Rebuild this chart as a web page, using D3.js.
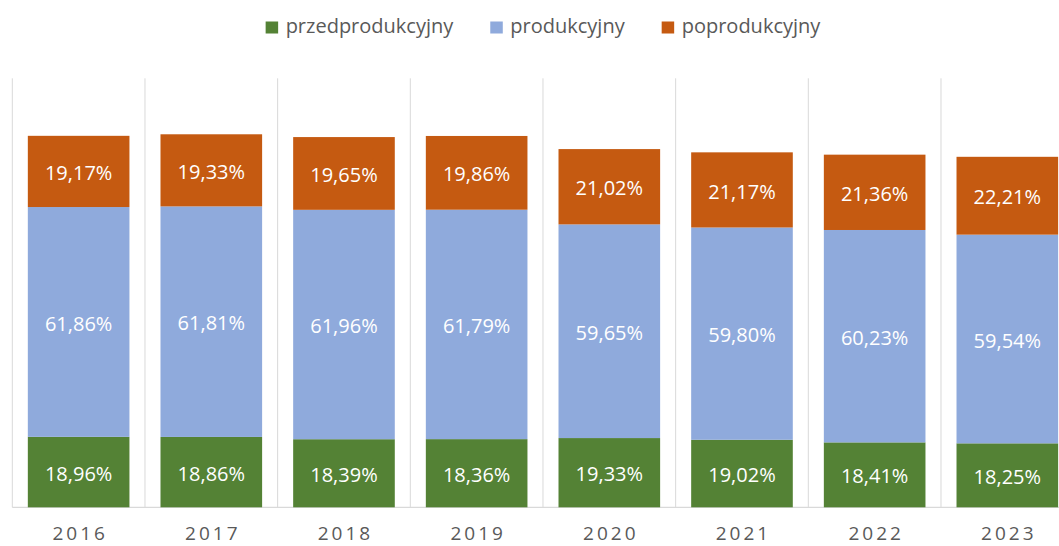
<!DOCTYPE html>
<html>
<head>
<meta charset="utf-8">
<script src="https://cdn.jsdelivr.net/npm/d3@7"></script>
<style>
  html, body { margin: 0; padding: 0; background: #fff; }
  svg { display: block; }
  text { font-family: "Open Sans", "DejaVu Sans", sans-serif; }
</style>
</head>
<body>
<svg id="chart" width="1059" height="546"></svg>
<script>
// ---- data ----
const years = ["2016", "2017", "2018", "2019", "2020", "2021", "2022", "2023"];
const seriesNames = ["przedprodukcyjny", "produkcyjny", "poprodukcyjny"];
const przedprodukcyjny = [18.96, 18.86, 18.39, 18.36, 19.33, 19.02, 18.41, 18.25];
const produkcyjny      = [61.86, 61.81, 61.96, 61.79, 59.65, 59.80, 60.23, 59.54];
const poprodukcyjny    = [19.17, 19.33, 19.65, 19.86, 21.02, 21.17, 21.36, 22.21];
// total bar height (relative, hidden axis 0–100)
const barTotals = [86.6, 86.95, 86.3, 86.55, 83.5, 82.75, 82.2, 81.7];
const seriesColors = ["#548235", "#8FAADC", "#C55A11"];

// ---- layout ----
const svg = d3.select("#chart");
const plotLeft = 12.3, step = 132.67;
const plotRight = plotLeft + years.length * step;
const baseY = 507.3, topY = 78.3;

const x = d3.scaleBand().domain(years).range([plotLeft, plotRight])
  .paddingInner(0.234).paddingOuter(0.117);
const y = d3.scaleLinear().domain([0, 100]).range([baseY, topY]);
const color = d3.scaleOrdinal().domain(seriesNames).range(seriesColors);

const pctSeries = [przedprodukcyjny, produkcyjny, poprodukcyjny];
const rows = years.map((yr, i) => {
  const r = { year: yr };
  seriesNames.forEach((s, k) => { r[s] = barTotals[i] * pctSeries[k][i] / 100; r[s + "_pct"] = pctSeries[k][i]; });
  return r;
});
const stacked = d3.stack().keys(seriesNames)(rows);

const pl = d3.formatLocale({ decimal: ",", thousands: " ", grouping: [3], currency: ["", " zł"] });
const fmt = pl.format(".2f");

// vertical gridlines at category boundaries
const bounds = d3.range(years.length + 1).map(i => plotLeft + i * step);
svg.append("g").selectAll("line").data(bounds).join("line")
  .attr("x1", d => d).attr("x2", d => d)
  .attr("y1", topY).attr("y2", baseY)
  .attr("stroke", "#d9d9d9").attr("stroke-width", 1);

// baseline
svg.append("line")
  .attr("x1", plotLeft).attr("x2", plotRight)
  .attr("y1", baseY).attr("y2", baseY)
  .attr("stroke", "#d9d9d9").attr("stroke-width", 1.2);

// bars
const layers = svg.append("g").selectAll("g").data(stacked).join("g")
  .attr("fill", d => color(d.key));
layers.selectAll("rect").data(d => d).join("rect")
  .attr("x", d => x(d.data.year))
  .attr("width", x.bandwidth())
  .attr("y", d => y(d[1]))
  .attr("height", d => y(d[0]) - y(d[1]));

// data labels
const labels = svg.append("g");
stacked.forEach(layer => {
  labels.selectAll(null).data(layer).join("text")
    .attr("x", d => x(d.data.year) + x.bandwidth() / 2)
    .attr("y", d => (y(d[0]) + y(d[1])) / 2)
    .attr("dy", "0.43em")
    .attr("text-anchor", "middle")
    .attr("fill", "#ffffff")
    .attr("font-size", 20)
    .text(d => fmt(d.data[layer.key + "_pct"]) + "%");
});

// x axis labels
const xAxis = d3.axisBottom(x).tickSize(0).tickPadding(0);
const gx = svg.append("g").attr("transform", `translate(0,${baseY})`).call(xAxis);
gx.select(".domain").remove();
gx.selectAll("text")
  .attr("y", 33).attr("dy", 0).attr("dx", 1.5)
  .attr("fill", "#595959")
  .attr("font-size", 19)
  .attr("letter-spacing", 3)
  .style("font-family", "'Open Sans', sans-serif");

// legend
const legend = svg.append("g");
const items = legend.selectAll("g").data(seriesNames).join("g");
items.append("rect").attr("width", 12.5).attr("height", 12).attr("y", 21.5)
  .attr("fill", d => color(d));
items.append("text").attr("x", 20).attr("y", 33)
  .attr("fill", "#595959").attr("font-size", 20)
  .text(d => d);
const widths = [];
items.each(function () { widths.push(20 + this.querySelector("text").getComputedTextLength()); });
const gap = 37;
const totalW = d3.sum(widths) + gap * (widths.length - 1);
let cx = (plotLeft + plotRight) / 2 - totalW / 2;
items.attr("transform", (d, i) => {
  const tx = cx; cx += widths[i] + gap; return `translate(${tx},0)`;
});
</script>
</body>
</html>
